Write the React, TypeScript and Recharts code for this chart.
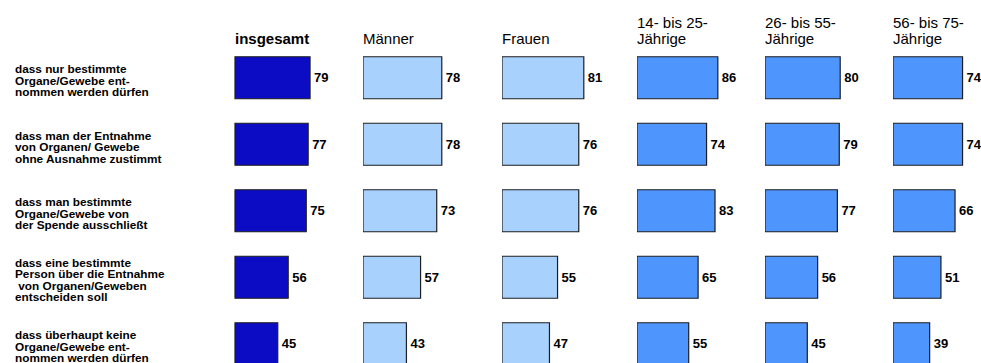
import React from 'react';
import { BarChart, Bar, XAxis, YAxis, LabelList } from 'recharts';

// row labels (line breaks as in the original)
const categories = [
  'dass nur bestimmte\nOrgane/Gewebe ent-\nnommen werden dürfen',
  'dass man der Entnahme\nvon Organen/ Gewebe\nohne Ausnahme zustimmt',
  'dass man bestimmte\nOrgane/Gewebe von\nder Spende ausschließt',
  'dass eine bestimmte\nPerson über die Entnahme\n von Organen/Geweben\nentscheiden soll',
  'dass überhaupt keine\nOrgane/Gewebe ent-\nnommen werden dürfen',
];

const groupTitles = ['insgesamt', 'Männer', 'Frauen', '14- bis 25-\nJährige', '26- bis 55-\nJährige', '56- bis 75-\nJährige'];

const insgesamt = [79, 77, 75, 56, 45];
const maenner = [78, 78, 73, 57, 43];
const frauen = [81, 76, 76, 55, 47];
const age14to25 = [86, 74, 83, 65, 55];
const age26to55 = [80, 79, 77, 56, 45];
const age56to75 = [74, 74, 66, 51, 39];

const FONT = '"Liberation Sans", Arial, Helvetica, sans-serif';

const DARK = '#0c0cc4';
const LIGHT = '#a9d1fe';
const MID = '#4f95fe';

// panel layout: left edge of the bars, width of 0..100, colour
const panels = [
  { key: 'insgesamt', values: insgesamt, left: 235, span: 95, fill: DARK },
  { key: 'maenner', values: maenner, left: 363, span: 101, fill: LIGHT },
  { key: 'frauen', values: frauen, left: 502, span: 101, fill: LIGHT },
  { key: 'age14to25', values: age14to25, left: 637, span: 94, fill: MID },
  { key: 'age26to55', values: age26to55, left: 765, span: 94, fill: MID },
  { key: 'age56to75', values: age56to75, left: 893, span: 94, fill: MID },
];

const data = categories.map((name, i) => {
  const row: { [k: string]: string | number } = { name };
  panels.forEach(p => { row[p.key] = p.values[i]; });
  return row;
});

const TOP = 44.75;
const PLOT_H = 332.5;
const LABEL_ROOM = 40;
const LINE = 11.5;

const RowLabel = ({ y, payload }: any) => {
  const lines = String(payload.value).split('\n');
  const first = y + 6.5 - (lines.length - 1) * (LINE / 2);
  return (
    <text x={15} y={first} fontFamily={FONT} fontSize={11.8} fontWeight="bold" fill="#000" textAnchor="start">
      {lines.map((l, i) => (
        <tspan key={i} x={15} dy={i === 0 ? 0 : LINE} style={{ whiteSpace: 'pre' }}>{l}</tspan>
      ))}
    </text>
  );
};

export default function App() {
  return (
    <div style={{ position: 'absolute', left: 0, top: 0, width: 981, height: 363, overflow: 'hidden', background: '#fff' }}>
      {panels.map((p, idx) => {
        const lines = groupTitles[idx].split('\n');
        return (
          <div
            key={p.key + '-title'}
            style={{
              position: 'absolute',
              left: p.left,
              top: 44 - 13.2 - (lines.length - 1) * 16,
              fontFamily: FONT,
              fontSize: 15,
              lineHeight: '16px',
              fontWeight: idx === 0 ? 'bold' : 'normal',
              whiteSpace: 'pre',
              color: '#000',
            }}
          >
            {lines.join('\n')}
          </div>
        );
      })}
      {panels.map((p, idx) => {
        const axisW = idx === 0 ? p.left : 0;
        return (
          <div key={p.key} style={{ position: 'absolute', left: idx === 0 ? 0 : p.left, top: 0 }}>
            <BarChart
              width={axisW + p.span + LABEL_ROOM}
              height={TOP + PLOT_H}
              data={data}
              layout="vertical"
              margin={{ top: TOP, right: LABEL_ROOM, left: 0, bottom: 0 }}
              barSize={42}
            >
              <XAxis type="number" domain={[0, 100]} hide />
              {idx === 0 ? (
                <YAxis
                  type="category"
                  dataKey="name"
                  width={axisW}
                  axisLine={false}
                  tickLine={false}
                  tick={<RowLabel />}
                  interval={0}
                />
              ) : (
                <YAxis type="category" dataKey="name" hide />
              )}
              <Bar dataKey={p.key} fill={p.fill} stroke="#1e1e1e" strokeWidth={1.2} isAnimationActive={false}>
                <LabelList
                  dataKey={p.key}
                  position="right"
                  offset={4}
                  style={{ fontFamily: FONT, fontSize: 13, fontWeight: 'bold', fill: '#000' }}
                />
              </Bar>
            </BarChart>
          </div>
        );
      })}
    </div>
  );
}
